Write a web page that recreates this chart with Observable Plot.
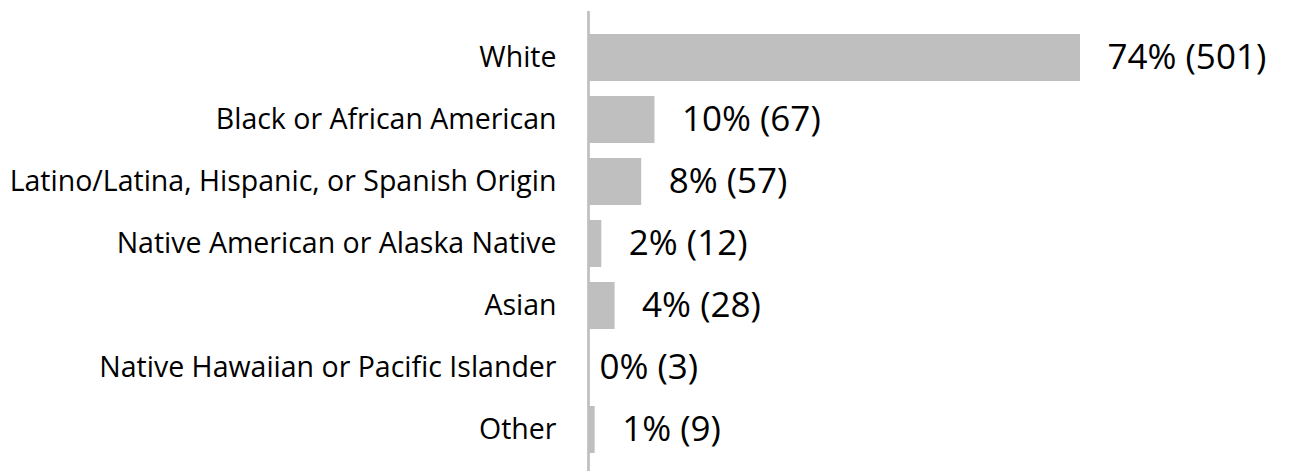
<!DOCTYPE html>
<html>
<head>
<meta charset="utf-8">
<script src="https://cdn.jsdelivr.net/npm/d3@7"></script>
<script src="https://cdn.jsdelivr.net/npm/@observablehq/plot@0.6"></script>
<style>
  html, body { margin: 0; padding: 0; background: #fff; }
  #chart svg { display: block; }
</style>
</head>
<body>
<div id="chart"></div>
<script>
const categories = [
  "White",
  "Black or African American",
  "Latino/Latina, Hispanic, or Spanish Origin",
  "Native American or Alaska Native",
  "Asian",
  "Native Hawaiian or Pacific Islander",
  "Other"
];
const percents = [74, 10, 8, 2, 4, 0, 1];
const counts = [501, 67, 57, 12, 28, 3, 9];

const rows = categories.map((c, i) => ({category: c, pct: percents[i], n: counts[i]}));
const label = d => `${d.pct}% (${d.n})`;

const chart = Plot.plot({
  width: 1295,
  height: 473,
  marginLeft: 588,
  marginRight: 215,
  marginTop: 11,
  marginBottom: 2,
  style: {fontFamily: "'Open Sans', sans-serif", background: "#fff", overflow: "visible"},
  x: {domain: [0, 74], axis: null},
  y: {domain: categories, paddingInner: 0.245, paddingOuter: 0.1225, insetTop: 12.5, insetBottom: 7.5, label: null},
  marks: [
    Plot.barX(rows, {x: "pct", y: "category", fill: "#bfbfbf"}),
    Plot.ruleX([0], {stroke: "#bfbfbf", strokeWidth: 2.7}),
    Plot.axisY({tickSize: 0, tickPadding: 32, fontSize: 28.5, fill: "#000", label: null}),
    Plot.text(rows.filter(d => d.pct > 0), {x: "pct", y: "category", text: label, textAnchor: "start", dx: 27, fontSize: 35, fill: "#000"}),
    Plot.text(rows.filter(d => d.pct === 0), {x: "pct", y: "category", text: label, textAnchor: "start", dx: 11, fontSize: 35, fill: "#000"})
  ]
});
document.getElementById("chart").appendChild(chart);
</script>
</body>
</html>
